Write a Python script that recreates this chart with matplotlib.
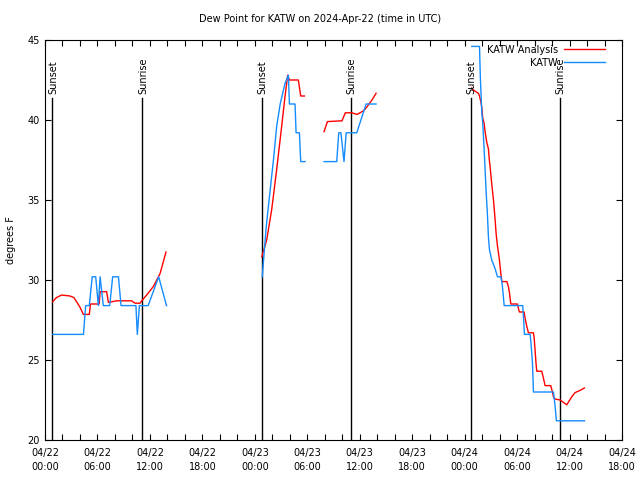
import numpy as np
from matplotlib import pyplot as plt

# hours since 2024-04-22 00:00 UTC
# KATW Analysis (red), split into the pieces the chart shows
ana_h1 = [0.88, 1.3, 1.9, 2.86, 3.3, 3.62, 4.0, 4.39, 5.07, 5.2, 6.2, 6.3, 7.05, 7.25, 8.2,
          9.9, 10.3, 10.87, 11.06, 11.63, 12.4, 13.16, 13.84]
ana_v1 = [28.64, 28.9, 29.06, 29.0, 28.9, 28.64, 28.3, 27.85, 27.85, 28.5, 28.5, 29.27, 29.27,
          28.6, 28.7, 28.7, 28.55, 28.55, 28.7, 29.06, 29.6, 30.4, 31.75]
ana_h2 = [24.8, 25.36, 25.93, 26.5, 27.07, 27.46, 27.76, 27.95, 28.98, 29.25, 29.67]
ana_v2 = [31.46, 32.5, 34.4, 36.9, 39.6, 41.5, 42.8, 42.5, 42.5, 41.5, 41.5]
ana_h3 = [31.92, 32.3, 33.97, 34.35, 35.1, 35.7, 36.45, 36.8, 37.4, 37.87]
ana_v3 = [39.27, 39.9, 39.95, 40.45, 40.45, 40.35, 40.58, 40.8, 41.25, 41.67]
ana_h4 = [48.82, 48.93, 49.2, 49.58, 49.7, 49.85, 49.96, 50.07, 50.23, 50.34,
          50.53, 50.72, 50.84, 50.91, 51.1, 51.3, 51.49, 51.6, 51.76, 51.98,
          52.14, 52.25, 52.83, 53.0, 53.13, 53.28, 54.04, 54.16, 54.27, 54.8,
          54.92, 55.11, 55.3, 55.87, 55.95, 56.18, 56.25, 56.82, 57.02, 57.2,
          57.85, 58.04, 58.16, 58.35, 58.92, 59.68, 60.25, 60.63, 61.2, 61.7]
ana_v4 = [42.0, 41.9, 41.8, 41.67, 41.5, 41.15, 40.8, 40.1, 39.8, 39.27,
          38.6, 38.2, 37.4, 37.1, 36.0, 35.0, 33.75, 32.9, 32.1, 31.25,
          30.4, 29.9, 29.9, 29.6, 29.2, 28.5, 28.5, 28.2, 28.0, 28.0,
          27.6, 27.1, 26.7, 26.7, 26.4, 24.7, 24.3, 24.3, 23.85, 23.4,
          23.4, 23.0, 22.7, 22.56, 22.5, 22.2, 22.7, 22.96, 23.1, 23.25]

# KATW observations (blue)
obs_h1 = [0.88, 4.4, 4.65, 5.07, 5.4, 5.8, 6.1, 6.3, 6.67, 7.4, 7.74, 8.4, 8.7, 10.4, 10.56,
          10.8, 11.8, 13.0, 13.9]
obs_v1 = [26.6, 26.6, 28.4, 28.4, 30.2, 30.2, 28.4, 30.2, 28.4, 28.4, 30.2, 30.2, 28.4, 28.4,
          26.6, 28.4, 28.4, 30.2, 28.4]
obs_h2 = [24.85, 25.3, 25.67, 26.13, 26.5, 26.9, 27.46, 27.84, 27.96, 28.6, 28.72, 29.1, 29.25, 29.75]
obs_v2 = [30.2, 33.3, 35.2, 37.5, 39.6, 41.0, 42.3, 42.8, 41.0, 41.0, 39.2, 39.2, 37.4, 37.4]
obs_h3 = [31.92, 33.37, 33.6, 33.85, 34.2, 34.45, 35.66, 36.73, 37.87]
obs_v3 = [37.4, 37.4, 39.2, 39.2, 37.4, 39.2, 39.2, 41.0, 41.0]
obs_h4 = [48.82, 49.7, 49.8, 49.96, 50.07, 50.23, 50.34, 50.46, 50.61, 50.72,
          50.84, 51.1, 51.49, 51.76, 52.14, 52.25, 52.36, 52.52, 54.65, 54.73,
          54.84, 55.49, 55.6, 55.76, 55.87, 58.16, 58.35, 58.5, 61.71]
obs_v4 = [44.6, 44.6, 42.6, 40.5, 39.8, 38.2, 36.9, 35.5, 34.06, 32.7,
          31.9, 31.25, 30.7, 30.2, 30.2, 29.9, 29.4, 28.4, 28.4, 27.7,
          26.6, 26.6, 26.0, 24.8, 23.0, 23.0, 22.1, 21.2, 21.2]

sun_hours = [0.84, 11.13, 24.8, 35.0, 48.7, 58.9]
sun_labels = ['Sunset', 'Sunrise', 'Sunset', 'Sunrise', 'Sunset', 'Sunrise']

tick_hours = [0, 6, 12, 18, 24, 30, 36, 42, 48, 54, 60, 66]
tick_labels = ['04/22\n00:00', '04/22\n06:00', '04/22\n12:00', '04/22\n18:00',
               '04/23\n00:00', '04/23\n06:00', '04/23\n12:00', '04/23\n18:00',
               '04/24\n00:00', '04/24\n06:00', '04/24\n12:00', '04/24\n18:00']

plt.rcParams['font.family'] = 'DejaVu Sans'
plt.rcParams['font.size'] = 7

red = '#ff0000'
blue = '#148cff'

fig = plt.figure(figsize=(6.4, 4.8), dpi=100)
ax = fig.add_axes([45/640, 40/480, 577/640, 400/480])

for h, lab in zip(sun_hours, sun_labels):
    ax.plot([h, h], [20, 41.35], color='black', lw=1.0)
    ax.text(h + 0.1, 41.65, lab, rotation=90, ha='center', va='bottom', fontsize=7)

ana = [(ana_h1, ana_v1), (ana_h2, ana_v2), (ana_h3, ana_v3), (ana_h4, ana_v4)]
obs = [(obs_h1, obs_v1), (obs_h2, obs_v2), (obs_h3, obs_v3), (obs_h4, obs_v4)]
for i, (h, v) in enumerate(ana):
    ax.plot(h, v, color=red, lw=1.0, label='KATW Analysis' if i == 0 else None)
for i, (h, v) in enumerate(obs):
    ax.plot(h, v, color=blue, lw=1.0, label='KATW' if i == 0 else None)

ax.set_xlim(0, 66)
ax.set_ylim(20, 45)
ax.set_xticks(tick_hours)
ax.set_xticklabels(tick_labels, linespacing=1.5)
ax.set_xticks(np.arange(0, 67, 2), minor=True)
ax.set_yticks([20, 25, 30, 35, 40, 45])
ax.tick_params(which='both', direction='in', top=True, right=True, length=4, width=0.8, pad=6)
ax.tick_params(axis='y', pad=4)
for s in ax.spines.values():
    s.set_linewidth(0.8)

fig.text(11/640, 0.5, 'degrees F', rotation=90, ha='center', va='center', fontsize=7)
fig.text(0.5, 1 - 19/480, 'Dew Point for KATW on 2024-Apr-22 (time in UTC)',
         ha='center', va='center', fontsize=7)

ax.legend(loc='upper right', bbox_to_anchor=(0.985, 1.01), frameon=False, markerfirst=False,
          handlelength=4.2, handletextpad=0.6, labelspacing=0.3, fontsize=7)

plt.savefig('out.png', dpi=100)
